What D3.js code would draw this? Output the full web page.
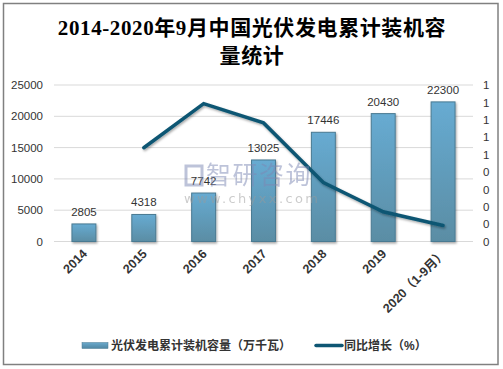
<!DOCTYPE html>
<html><head><meta charset="utf-8">
<script src="https://cdn.jsdelivr.net/npm/d3@7"></script>
<style>
html,body{margin:0;padding:0;background:#fff;}
svg{display:block;}
</style></head>
<body>
<svg id="c" width="503" height="369"></svg>
<script>
const categories = ["2014","2015","2016","2017","2018","2019","2020（1-9月）"];
const capacity = [2805,4318,7742,13025,17446,20430,22300];
const growth = [null,0.539,0.793,0.682,0.339,0.171,0.092];
const leftTicks = [0,5000,10000,15000,20000,25000];
const rightTicks = [0,0.1,0.2,0.3,0.4,0.5,0.6,0.7,0.8,0.9];
const titleLines = ["2014-2020年9月中国光伏发电累计装机容","量统计"];
const legendLabels = ["光伏发电累计装机容量（万千瓦）","同比增长（%）"];

const svg = d3.select("#c");
const x0=54,x1=473,y0=241.5,y1=85;
const font = "'Liberation Sans','Noto Sans CJK SC',sans-serif";

const defs = svg.append("defs");
const g1 = defs.append("linearGradient").attr("id","bg").attr("x1",0).attr("y1",0).attr("x2",0).attr("y2",1);
g1.append("stop").attr("offset","0%").attr("stop-color","#67abd2");
g1.append("stop").attr("offset","100%").attr("stop-color","#5a8da4");
const g2 = defs.append("linearGradient").attr("id","lg").attr("x1",0).attr("y1",0).attr("x2",0).attr("y2",1);
g2.append("stop").attr("offset","0%").attr("stop-color","#6aa9cc");
g2.append("stop").attr("offset","100%").attr("stop-color","#4f86a2");
const flt = defs.append("filter").attr("id","sh").attr("x","-10%").attr("y","-10%").attr("width","130%").attr("height","130%");
flt.append("feDropShadow").attr("dx",1).attr("dy",1.5).attr("stdDeviation",1).attr("flood-color","#000").attr("flood-opacity",0.35);

svg.append("rect").attr("x",3.5).attr("y",3.5).attr("width",494.5).attr("height",361)
  .attr("fill","#fff").attr("stroke","#808080").attr("stroke-width",1.5);

svg.append("g").selectAll("text").data(titleLines).join("text")
  .attr("x",252).attr("y",(d,i)=>35+i*28)
  .attr("text-anchor","middle")
  .attr("font-family","'Liberation Serif','Noto Sans CJK SC',serif")
  .attr("font-weight","bold").attr("font-size",21).attr("letter-spacing",0.6).attr("fill","#000")
  .text(d=>d);

const x = d3.scaleBand().domain(categories).range([x0,x1]).paddingInner(0.6).paddingOuter(0.3);
const yL = d3.scaleLinear().domain([0,25000]).range([y0,y1]);
const yR = d3.scaleLinear().domain([0,0.9]).range([y0,y1]);

svg.append("g").selectAll("line").data(leftTicks).join("line")
  .attr("x1",x0).attr("x2",x1).attr("y1",d=>yL(d)).attr("y2",d=>yL(d))
  .attr("stroke","#d9d9d9").attr("stroke-width",1);

const ax = svg.append("g").attr("transform",`translate(${x0},0)`)
  .call(d3.axisLeft(yL).tickValues(leftTicks).tickSize(0).tickPadding(11).tickFormat(d3.format("d")));
ax.select(".domain").remove();
ax.selectAll("text").attr("font-family",font).attr("font-size",11.5).attr("fill","#333");

const ar = svg.append("g").attr("transform",`translate(${x1},0)`)
  .call(d3.axisRight(yR).tickValues(rightTicks).tickSize(0).tickPadding(10).tickFormat(d=>String(Math.round(d+1e-9))));
ar.select(".domain").remove();
ar.selectAll("text").attr("font-family",font).attr("font-size",11.5).attr("fill","#333");

svg.append("g").selectAll("rect").data(capacity).join("rect")
  .attr("x",(d,i)=>x(categories[i])).attr("width",x.bandwidth())
  .attr("y",d=>yL(d)).attr("height",d=>y0-yL(d))
  .attr("fill","url(#bg)").attr("stroke","#4a7a92").attr("stroke-width",1)
  .attr("filter","url(#sh)");

svg.append("g").selectAll("text").data(capacity).join("text")
  .attr("x",(d,i)=>x(categories[i])+x.bandwidth()/2)
  .attr("y",d=>yL(d)-8)
  .attr("text-anchor","middle").attr("font-family",font).attr("font-size",11.5).attr("fill","#333")
  .text(d=>d);

const pts = growth.map((g,i)=>({c:categories[i],g})).filter(p=>p.g!==null);
svg.append("path").datum(pts)
  .attr("d",d3.line().x(p=>x(p.c)+x.bandwidth()/2).y(p=>yR(p.g)))
  .attr("fill","none").attr("stroke","#0e5673").attr("stroke-width",3.5)
  .attr("stroke-linejoin","miter").attr("stroke-linecap","round")
  .attr("filter","url(#sh)");

// watermark (on top, faint)
const wm = svg.append("g").attr("opacity",0.5);
wm.append("rect").attr("x",186).attr("y",166).attr("width",16).attr("height",19).attr("fill","none").attr("stroke","#7d88b4").attr("stroke-width",3);
wm.append("text").attr("x",206).attr("y",184).attr("font-family","'Noto Sans CJK SC',sans-serif").attr("font-size",25).attr("letter-spacing",1.5).attr("fill","#7d88b4").text("智研咨询");
wm.append("text").attr("x",184).attr("y",203).attr("font-family","'DejaVu Sans',sans-serif").attr("font-size",13).attr("letter-spacing",2.4).attr("fill","#9a9a9a").text("www.chyxx.com");

svg.append("g").selectAll("text").data(categories).join("text")
  .attr("transform",d=>`translate(${x(d)+x.bandwidth()/2+4},${y0+13}) rotate(-45)`)
  .attr("text-anchor","end").attr("font-family",font).attr("font-weight","bold")
  .attr("font-size",12.5).attr("fill","#333").text(d=>d);

const lg = svg.append("g");
lg.append("rect").attr("x",82).attr("y",342.5).attr("width",26).attr("height",6)
  .attr("fill","url(#lg)").attr("stroke","#4a7a92").attr("stroke-width",0.5);
lg.append("text").attr("x",111).attr("y",350).attr("font-family",font).attr("font-weight","bold")
  .attr("font-size",12).attr("fill","#333").text(legendLabels[0]);
lg.append("line").attr("x1",316).attr("x2",342).attr("y1",345.5).attr("y2",345.5)
  .attr("stroke","#0e5673").attr("stroke-width",3.5).attr("stroke-linecap","round");
lg.append("text").attr("x",344).attr("y",350).attr("font-family",font).attr("font-weight","bold")
  .attr("font-size",12).attr("fill","#333").text(legendLabels[1]);
</script>
</body></html>
